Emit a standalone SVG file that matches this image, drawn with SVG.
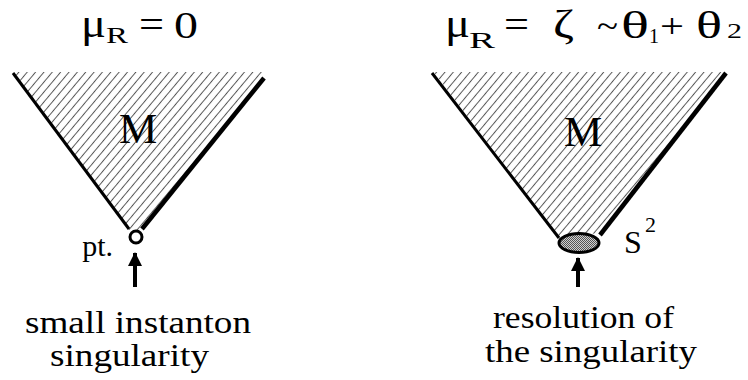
<svg xmlns="http://www.w3.org/2000/svg" width="748" height="380" viewBox="0 0 748 380">
  <defs>
    <style>
      .t { font-family: "Liberation Serif", "Times New Roman", serif; fill: #000; }
      .edge { stroke: #000; fill: none; stroke-linecap: butt; }
      .hatch { fill: url(#hatch); stroke: none; }
      .shaft { stroke: #000; stroke-width: 4; fill: none; }
    </style>
    <pattern id="hatch" patternUnits="userSpaceOnUse" width="20" height="6.4" patternTransform="rotate(-50)">
      <line x1="0" y1="3.2" x2="20" y2="3.2" stroke="#555" stroke-width="1"/>
    </pattern>
    <pattern id="stipple" patternUnits="userSpaceOnUse" width="2" height="2">
      <rect width="2" height="2" fill="#d0d0d0"/>
      <rect width="1" height="1" fill="#555"/>
      <rect x="1" y="1" width="1" height="1" fill="#555"/>
    </pattern>
    <marker id="ah" markerUnits="userSpaceOnUse" markerWidth="14" markerHeight="16" viewBox="0 0 14 16" refX="13" refY="7" orient="auto">
      <polygon points="0,0 14,7 0,14" fill="#000"/>
    </marker>
  </defs>

  <g id="title-left">
    <text class="t" x="81" y="37" font-size="42" textLength="25" lengthAdjust="spacingAndGlyphs">μ</text>
    <text class="t" x="106" y="43" font-size="23" textLength="22" lengthAdjust="spacingAndGlyphs">R</text>
    <text class="t" x="139" y="37" font-size="38" textLength="25" lengthAdjust="spacingAndGlyphs">=</text>
    <text class="t" x="174" y="38" font-size="38" textLength="24" lengthAdjust="spacingAndGlyphs">0</text>
  </g>

  <g id="title-right">
    <text class="t" x="445" y="37" font-size="42" textLength="25" lengthAdjust="spacingAndGlyphs">μ</text>
    <text class="t" x="469" y="48" font-size="23" textLength="26" lengthAdjust="spacingAndGlyphs">R</text>
    <text class="t" x="504" y="37" font-size="38" textLength="25" lengthAdjust="spacingAndGlyphs">=</text>
    <text class="t" x="553" y="37" font-size="40" textLength="21" lengthAdjust="spacingAndGlyphs">ζ</text>
    <text class="t" x="597" y="37" font-size="34" textLength="21" lengthAdjust="spacingAndGlyphs">~</text>
    <text class="t" x="621" y="38" font-size="38" textLength="28" lengthAdjust="spacingAndGlyphs">θ</text>
    <text class="t" x="649" y="43" font-size="20" textLength="10" lengthAdjust="spacingAndGlyphs">1</text>
    <text class="t" x="660" y="37" font-size="34" textLength="24" lengthAdjust="spacingAndGlyphs">+</text>
    <text class="t" x="696" y="38" font-size="38" textLength="26" lengthAdjust="spacingAndGlyphs">θ</text>
    <text class="t" x="727" y="38" font-size="22" textLength="15" lengthAdjust="spacingAndGlyphs">2</text>
  </g>

  <g id="cone-left">
    <polygon class="hatch" points="14,72 262,72 263,78 143,229 136,236 128,229"/>
    <line class="edge" x1="13" y1="73" x2="129" y2="229" stroke-width="3"/>
    <line class="edge" x1="264" y1="78" x2="142" y2="229" stroke-width="4.5"/>
    <text class="t" x="138" y="143" font-size="43" text-anchor="middle">M</text>
  </g>

  <g id="point">
    <circle cx="136" cy="237" r="6" fill="#fff" stroke="#000" stroke-width="3"/>
    <text class="t" x="113" y="256" font-size="30" text-anchor="end">pt.</text>
  </g>

  <g id="cone-right">
    <polygon class="hatch" points="434,72 722,72 725,74 601,234 579,233 558,238"/>
    <line class="edge" x1="432" y1="73" x2="559" y2="238" stroke-width="3"/>
    <line class="edge" x1="726" y1="73" x2="600" y2="235" stroke-width="4.5"/>
    <text class="t" x="583" y="146" font-size="43" text-anchor="middle">M</text>
  </g>

  <g id="sphere">
    <ellipse cx="579" cy="243" rx="20" ry="9.5" fill="url(#stipple)" stroke="#000" stroke-width="3"/>
    <text class="t" x="624" y="253" font-size="32">S</text>
    <text class="t" x="645" y="232" font-size="22">2</text>
  </g>

  <g id="connectors">
    <line class="shaft" x1="135" y1="287" x2="135" y2="253" marker-end="url(#ah)"/>
    <line class="shaft" x1="578" y1="287" x2="578" y2="258" marker-end="url(#ah)"/>
  </g>

  <g id="label-left">
    <text class="t" x="25" y="333" font-size="31" textLength="226" lengthAdjust="spacingAndGlyphs">small instanton</text>
    <text class="t" x="50" y="366" font-size="31" textLength="159" lengthAdjust="spacingAndGlyphs">singularity</text>
  </g>

  <g id="label-right">
    <text class="t" x="493" y="328" font-size="31" textLength="181" lengthAdjust="spacingAndGlyphs">resolution of</text>
    <text class="t" x="485" y="362" font-size="31" textLength="212" lengthAdjust="spacingAndGlyphs">the singularity</text>
  </g>
</svg>
